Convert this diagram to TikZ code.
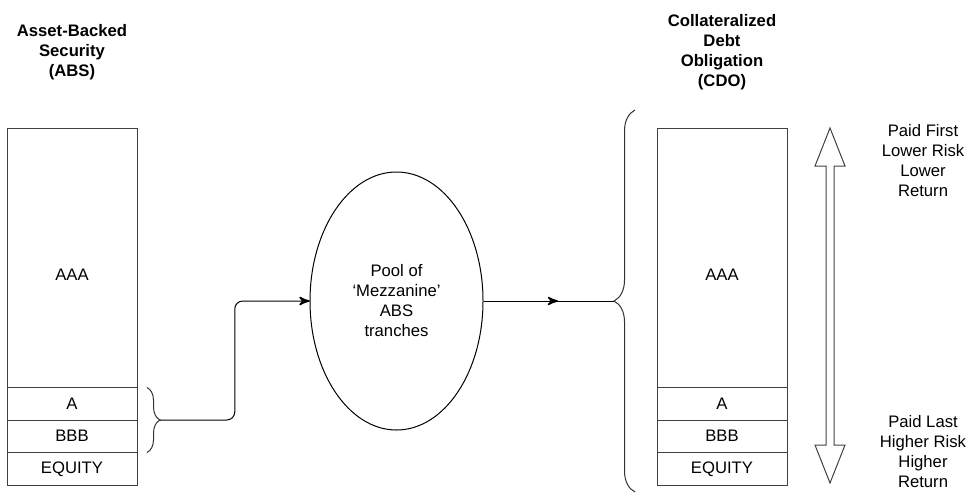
\documentclass[tikz,border=0pt]{standalone}
\usepackage{fontspec}
\setmainfont{Liberation Sans}
\usetikzlibrary{arrows}
\usetikzlibrary{calc}
\usetikzlibrary{decorations.markings}
\usetikzlibrary{decorations.pathreplacing}
\usetikzlibrary{shapes.geometric}
\newcommand{\diagfont}{\fontsize{12.5}{15}\selectfont}
\tikzset{flow/.style = {decoration={markings,
                                    mark=at position 1 with {\arrow[scale=1.6]{stealth'}}},
                        postaction={decorate}}}
\tikzset{midflow/.style = {decoration={markings,
                                       mark=at position 0.57 with {\arrow[scale=1.6]{stealth'}}},
                           postaction={decorate}}}
\tikzset{tranche/.style = {draw=black!75, line width=0.75pt, minimum width=97.5pt,
                           minimum height=24.375pt, inner sep=0, outer sep=0}}
\tikzset{senior/.style = {tranche, minimum height=194.6pt}}
\tikzset{title/.style = {font=\diagfont\bfseries, align=center}}
\tikzset{note/.style = {align=center}}

\begin{document}
\begin{tikzpicture}[x=0.75pt, y=-0.75pt, font=\diagfont, line width=0.75pt]
    \useasboundingbox (0,0) rectangle (969,493);

    % ABS
    \node [title] (abs) at (72,52) {Asset-Backed\\Security\\(ABS)};
    \node [senior, label={[yshift=-12.75pt]center:AAA}] (absaaa) at (72,257.75) {};
    \node [tranche] (absa) at (72,403.75) {A};
    \node [tranche] (absbbb) at (72,436.25) {BBB};
    \node [tranche] (abseq) at (72,468.75) {EQUITY};
    \draw [black!80, decorate, decoration={brace, amplitude=9.75pt}] (147,387.5) -- (147,452.5);
    \coordinate (lbrace) at (160,420);

    % pool
    \node [ellipse, draw, minimum width=129.75pt, minimum height=193.5pt, inner sep=0, align=center] (pool) at (396.5,301) {Pool of\\`Mezzanine'\\ABS\\tranches};
    \draw [flow, rounded corners=6pt] (lbrace) -| ($(lbrace)!0.5!(pool.west)$) |- (pool.west);

    % CDO
    \node [title] (cdo) at (722,52) {Collateralized\\Debt\\Obligation\\(CDO)};
    \draw [black!80, decorate, decoration={brace, amplitude=15.75pt}] (635,492) -- (635,110);
    \coordinate (rbrace) at (614,301);
    \draw [midflow] (pool.east) -- (rbrace);
    \node [senior, label={[yshift=-12.75pt]center:AAA}] (cdoaaa) at (722,257.75) {};
    \node [tranche] (cdoa) at (722,403.75) {A};
    \node [tranche] (cdobbb) at (722,436.25) {BBB};
    \node [tranche] (cdoeq) at (722,468.75) {EQUITY};

    % risk scale
    \draw [black!75] (830,128) -- (845,166) -- (834,166) -- (834,445) -- (845,445) -- (830,483)
        -- (815,445) -- (826,445) -- (826,166) -- (815,166) -- cycle;
    \node [note] (first) at (923,161) {Paid First\\Lower Risk\\Lower\\Return};
    \node [note] (last) at (923,452) {Paid Last\\Higher Risk\\Higher\\Return};
\end{tikzpicture}
\end{document}
